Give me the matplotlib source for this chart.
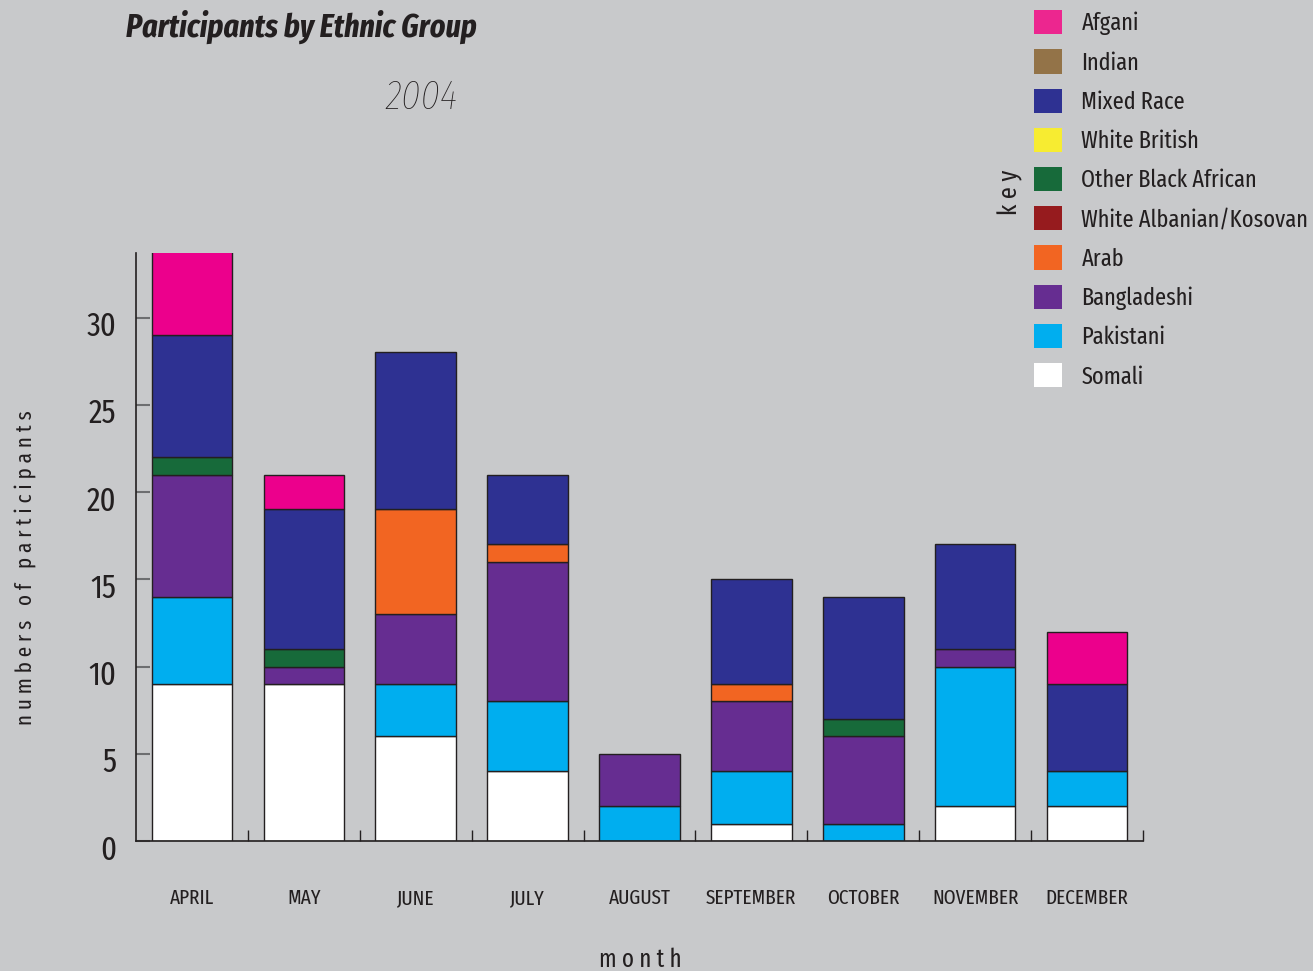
import matplotlib
matplotlib.use('Agg')
import matplotlib.pyplot as plt
from matplotlib import font_manager
from matplotlib.patches import Patch
from matplotlib.transforms import ScaledTranslation
import numpy as np

# a narrow humanist face, close to the original's condensed type
names = {f.name for f in font_manager.fontManager.ttflist}
font = 'DejaVu Sans'
for cand in ['Fira Sans Extra Condensed', 'Fira Sans Condensed', 'PT Sans Narrow', 'Asap Condensed']:
    if cand in names:
        font = cand
        break
plt.rcParams['font.family'] = [font, 'DejaVu Sans']

months = ['APRIL', 'MAY', 'JUNE', 'JULY', 'AUGUST', 'SEPTEMBER', 'OCTOBER', 'NOVEMBER', 'DECEMBER']

# legend order (top to bottom)
groups = ['Afgani', 'Indian', 'Mixed Race', 'White British', 'Other Black African',
          'White Albanian/Kosovan', 'Arab', 'Bangladeshi', 'Pakistani', 'Somali']
colors = ['#ec008c', '#937348', '#2e3192', '#f7ec31', '#176a3a',
          '#961b1e', '#f26522', '#662d91', '#00aeef', '#ffffff']
legend_colors = ['#ec268f', '#937348', '#2e3192', '#f7ec31', '#176a3a',
                 '#961b1e', '#f26522', '#662d91', '#00aeef', '#ffffff']

somali      = [9, 9, 6, 4, 0, 1, 0, 2, 2]
pakistani   = [5, 0, 3, 4, 2, 3, 1, 8, 2]
bangladeshi = [7, 1, 4, 8, 3, 4, 5, 1, 0]
arab        = [0, 0, 6, 1, 0, 1, 0, 0, 0]
albanian    = [0, 0, 0, 0, 0, 0, 0, 0, 0]
black_afr   = [1, 1, 0, 0, 0, 0, 1, 0, 0]
white_brit  = [0, 0, 0, 0, 0, 0, 0, 0, 0]
mixed       = [7, 8, 9, 4, 0, 6, 7, 6, 5]
indian      = [0, 0, 0, 0, 0, 0, 0, 0, 0]
afgani      = [5, 2, 0, 0, 0, 0, 0, 0, 3]

# bottom-up stacking order
stack = [somali, pakistani, bangladeshi, arab, albanian, black_afr, white_brit, mixed, indian, afgani]
stack_colors = colors[::-1]

bg = '#c8c9cb'
ink = '#231f20'

fig = plt.figure(figsize=(13.13, 9.71), dpi=100, facecolor=bg)
ax = fig.add_axes([136 / 1313, 130 / 971, 1007 / 1313, 588 / 971], facecolor=bg)

x = np.arange(len(months))
bottom = np.zeros(len(months))
for vals, c in zip(stack, stack_colors):
    vals = np.array(vals)
    mask = vals > 0
    ax.bar(x[mask], vals[mask], bottom=bottom[mask], width=0.72, color=c,
           edgecolor=ink, linewidth=1)
    bottom += vals

ax.set_xlim(-0.5, 8.5)
ax.set_ylim(0, 33.7)

for s in ['top', 'right']:
    ax.spines[s].set_visible(False)
for s in ['left', 'bottom']:
    ax.spines[s].set_color(ink)
    ax.spines[s].set_linewidth(1.2)

ax.set_yticks(range(0, 31, 5))
ax.tick_params(axis='y', direction='in', length=10, width=1.5, color='#6d6e70',
               labelsize=24, labelcolor=ink, pad=14)
# labels in the original sit a little below their ticks
shift = ScaledTranslation(0, -6 / 100, fig.dpi_scale_trans)
for lab in ax.get_yticklabels():
    lab.set_transform(lab.get_transform() + shift)
ax.set_xticks(x)
ax.set_xticklabels(months)
ax.tick_params(axis='x', which='major', length=0, labelsize=15, labelcolor=ink, pad=34)
ax.set_xticks(np.arange(0.5, 9, 1), minor=True)
ax.tick_params(axis='x', which='minor', direction='in', length=8, width=1, color=ink)

fig.text(640 / 1313, 1 - 960 / 971, 'm o n t h', ha='center', va='center', fontsize=18, color=ink)
fig.text(25 / 1313, 1 - 568 / 971, 'n u m b e r s   o f   p a r t i c i p a n t s',
         ha='center', va='center', rotation=90, fontsize=16.5, color=ink)
fig.text(1010 / 1313, 1 - 192 / 971, 'k e y', ha='center', va='center', rotation=90,
         fontsize=19, color=ink)

fig.text(126 / 1313, 1 - 27 / 971, 'Participants by Ethnic Group', ha='left', va='center',
         fontsize=23.5, fontweight='bold', fontstyle='italic', color=ink)
fig.text(421 / 1313, 1 - 97 / 971, '2004', ha='center', va='center',
         fontsize=30, fontstyle='italic', fontweight='light', color=ink)

handles = [Patch(facecolor=c, edgecolor='none') for c in legend_colors]
fig.legend(handles, groups, loc='upper left', bbox_to_anchor=(1034 / 1313, 1 - 10 / 971),
           frameon=False, fontsize=17.5, handlelength=1.15, handleheight=1.15,
           handletextpad=0.8, labelspacing=0.58, borderpad=0, borderaxespad=0,
           labelcolor=ink)

fig.savefig('out.png', dpi=100, facecolor=bg)
